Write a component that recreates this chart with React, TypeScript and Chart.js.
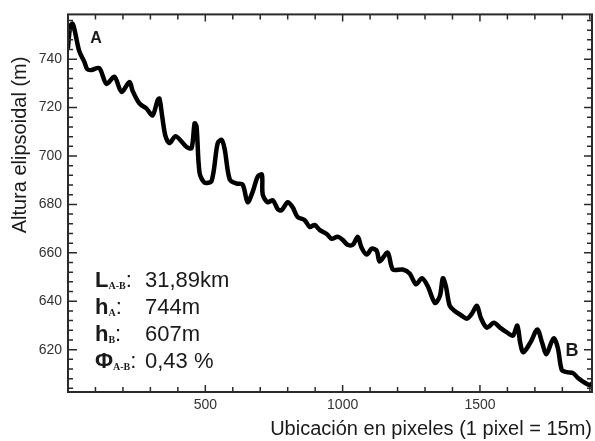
import React, { useEffect, useRef } from "react";
import { Chart, registerables } from "chart.js";

Chart.register(...registerables);

// Location along the profile (pixels, 1 pixel = 15 m)
const positions: number[] = [
  0, 8, 16, 23, 41, 60, 70, 85, 114, 140, 169, 195, 224, 235, 260, 286, 308, 326, 333, 344,
  355, 370, 392, 432, 450, 461, 468, 479, 497, 523, 545, 560, 571, 589, 614, 636, 654, 673, 691, 706,
  709, 727, 746, 764, 778, 800, 818, 836, 862, 880, 898, 916, 942, 960, 982, 1000, 1018, 1037, 1055, 1069,
  1088, 1106, 1124, 1135, 1164, 1183, 1219, 1244, 1267, 1289, 1310, 1336, 1354, 1365, 1376, 1390, 1408, 1434, 1452, 1470,
  1489, 1503, 1525, 1551, 1573, 1598, 1620, 1636, 1647, 1658, 1684, 1709, 1727, 1742, 1760, 1770, 1784, 1798, 1817, 1839,
  1857, 1882, 1900, 1911,
];

// Ellipsoidal height (m)
const heights: number[] = [
  744.9, 753.5, 754.7, 752.6, 743.3, 738.8, 735.9, 735.5, 736.3, 729.8, 732.7, 726.5, 730.6, 727.0, 721.7, 719.6, 716.8, 722.9, 723.7, 715.5,
  708.2, 705.3, 708.2, 703.7, 703.3, 713.5, 712.3, 693.1, 689.0, 689.8, 705.3, 706.6, 702.5, 690.3, 688.6, 688.2, 680.9, 685.4, 691.5, 692.3,
  684.1, 680.9, 681.7, 678.0, 677.6, 680.9, 678.8, 674.8, 673.5, 670.7, 671.5, 669.5, 667.8, 665.8, 666.6, 665.4, 663.3, 663.3, 666.6, 662.1,
  659.3, 661.7, 660.9, 656.4, 660.1, 653.1, 653.1, 651.5, 647.0, 649.5, 646.2, 639.3, 642.1, 649.5, 646.2, 638.1, 636.0, 634.0, 632.8, 634.8,
  638.1, 633.2, 629.1, 631.1, 629.1, 627.1, 625.8, 629.9, 622.6, 618.9, 623.0, 628.3, 622.6, 618.1, 623.0, 624.6, 620.5, 611.6, 610.7, 610.3,
  608.3, 606.3, 605.4, 606.3,
];

const xTickLabels: number[] = [500, 1000, 1500];
const yTickLabels: number[] = [620, 640, 660, 680, 700, 720, 740];

const X_MIN = 0;
const X_MAX = 1908;
const Y_MIN = 602.5;
const Y_MAX = 758.5;

const xTitle = "Ubicación en pixeles (1 pixel = 15m)";
const yTitle = "Altura elipsoidal (m)";

const infoRows: { main: string; sub: string; value: string }[] = [
  { main: "L", sub: "A-B", value: "31,89km" },
  { main: "h", sub: "A", value: "744m" },
  { main: "h", sub: "B", value: "607m" },
  { main: "Φ", sub: "A-B", value: "0,43 %" },
];

const SANS = "'Liberation Sans', Arial, Helvetica, sans-serif";
const SERIF = "'Liberation Serif', 'Times New Roman', serif";

const overlayPlugin = {
  id: "overlay",
  afterDraw(chart: any) {
    const { ctx, chartArea: a } = chart;
    const xs = chart.scales.x;
    const ys = chart.scales.y;
    ctx.save();

    // inward tick marks on all four sides
    ctx.strokeStyle = "#2a2a2a";
    ctx.lineWidth = 1.5;
    ctx.beginPath();
    for (let v = 100; v < X_MAX; v += 100) {
      const px = xs.getPixelForValue(v);
      const major = v % 500 === 0;
      const lb = major ? 7 : 5;
      const lt = major ? 7 : 5;
      ctx.moveTo(px, a.bottom);
      ctx.lineTo(px, a.bottom - lb);
      ctx.moveTo(px, a.top);
      ctx.lineTo(px, a.top + lt);
    }
    for (let v = 604; v < Y_MAX; v += 4) {
      const py = ys.getPixelForValue(v);
      const major = v % 20 === 0;
      const ll = major ? 9 : 5;
      const lr = major ? 8 : 5;
      ctx.moveTo(a.left, py);
      ctx.lineTo(a.left + ll, py);
      ctx.moveTo(a.right, py);
      ctx.lineTo(a.right - lr, py);
    }
    ctx.stroke();

    // frame
    ctx.lineWidth = 2;
    ctx.strokeRect(a.left, a.top, a.right - a.left, a.bottom - a.top);

    // y axis title
    ctx.fillStyle = "#1a1a1a";
    ctx.font = `20px ${SANS}`;
    ctx.textAlign = "center";
    ctx.textBaseline = "middle";
    ctx.save();
    ctx.translate(20, 145);
    ctx.rotate(-Math.PI / 2);
    ctx.fillText(yTitle, 0, 0);
    ctx.restore();

    // point labels A and B
    ctx.font = `bold 16px ${SANS}`;
    ctx.fillText("A", a.left + 28, a.top + 24);
    ctx.font = `bold 18px ${SANS}`;
    ctx.fillText("B", a.left + 504, a.top + 337);

    // info block
    ctx.textAlign = "left";
    ctx.textBaseline = "alphabetic";
    const x0 = a.left + 27;
    const baseY0 = a.top + 273;
    const step = 27;
    infoRows.forEach((r, i) => {
      const by = baseY0 + i * step;
      let cx = x0;
      ctx.font = `bold 22px ${SANS}`;
      ctx.fillText(r.main, cx, by);
      cx += ctx.measureText(r.main).width;
      ctx.font = `bold 10px ${SERIF}`;
      ctx.fillText(r.sub, cx, by + 2);
      cx += ctx.measureText(r.sub).width;
      ctx.font = `22px ${SANS}`;
      ctx.fillText(":", cx, by);
      cx += ctx.measureText(":").width;
      const vx = Math.max(a.left + 77, cx + 4);
      ctx.fillText(r.value, vx, by);
    });

    ctx.restore();
  },
};

export default function App() {
  const ref = useRef<HTMLCanvasElement | null>(null);

  useEffect(() => {
    if (!ref.current) return;
    const data = positions.map((p, i) => ({ x: p, y: heights[i] }));
    const chart = new Chart(ref.current, {
      type: "line",
      data: {
        datasets: [
          {
            data,
            borderColor: "#000000",
            borderWidth: 4.5,
            pointRadius: 0,
            tension: 0.3,
            borderJoinStyle: "round",
            borderCapStyle: "round",
            fill: false,
          },
        ],
      },
      options: {
        responsive: false,
        animation: false,
        devicePixelRatio: 1,
        layout: { padding: { left: 0, top: 10, right: 3, bottom: 0 } },
        plugins: { legend: { display: false }, tooltip: { enabled: false } },
        scales: {
          x: {
            type: "linear",
            min: X_MIN,
            max: X_MAX,
            afterBuildTicks: (s: any) => {
              s.ticks = xTickLabels.map((v) => ({ value: v }));
            },
            afterFit: (s: any) => {
              s.height = 49;
            },
            grid: { display: false, drawTicks: false },
            border: { display: false },
            ticks: {
              autoSkip: false,
              maxRotation: 0,
              padding: 5,
              color: "#333333",
              font: { size: 14, family: SANS },
              callback: (v: any) => String(v),
            },
            title: {
              display: true,
              text: xTitle,
              align: "end",
              color: "#1a1a1a",
              padding: 0,
              font: { size: 20, family: SANS, lineHeight: 1.2 },
            },
          },
          y: {
            type: "linear",
            min: Y_MIN,
            max: Y_MAX,
            afterBuildTicks: (s: any) => {
              s.ticks = yTickLabels.map((v) => ({ value: v }));
            },
            afterFit: (s: any) => {
              s.width = 68;
            },
            grid: { display: false, drawTicks: false },
            border: { display: false },
            ticks: {
              autoSkip: false,
              padding: 6,
              color: "#333333",
              font: { size: 14, family: SANS },
              callback: (v: any) => String(v),
            },
          },
        },
      },
      plugins: [overlayPlugin],
    } as any);
    return () => chart.destroy();
  }, []);

  return (
    <div
      style={{
        position: "fixed",
        left: 0,
        top: 0,
        width: 595,
        height: 441,
        background: "#ffffff",
      }}
    >
      <canvas ref={ref} width={595} height={441} />
    </div>
  );
}
